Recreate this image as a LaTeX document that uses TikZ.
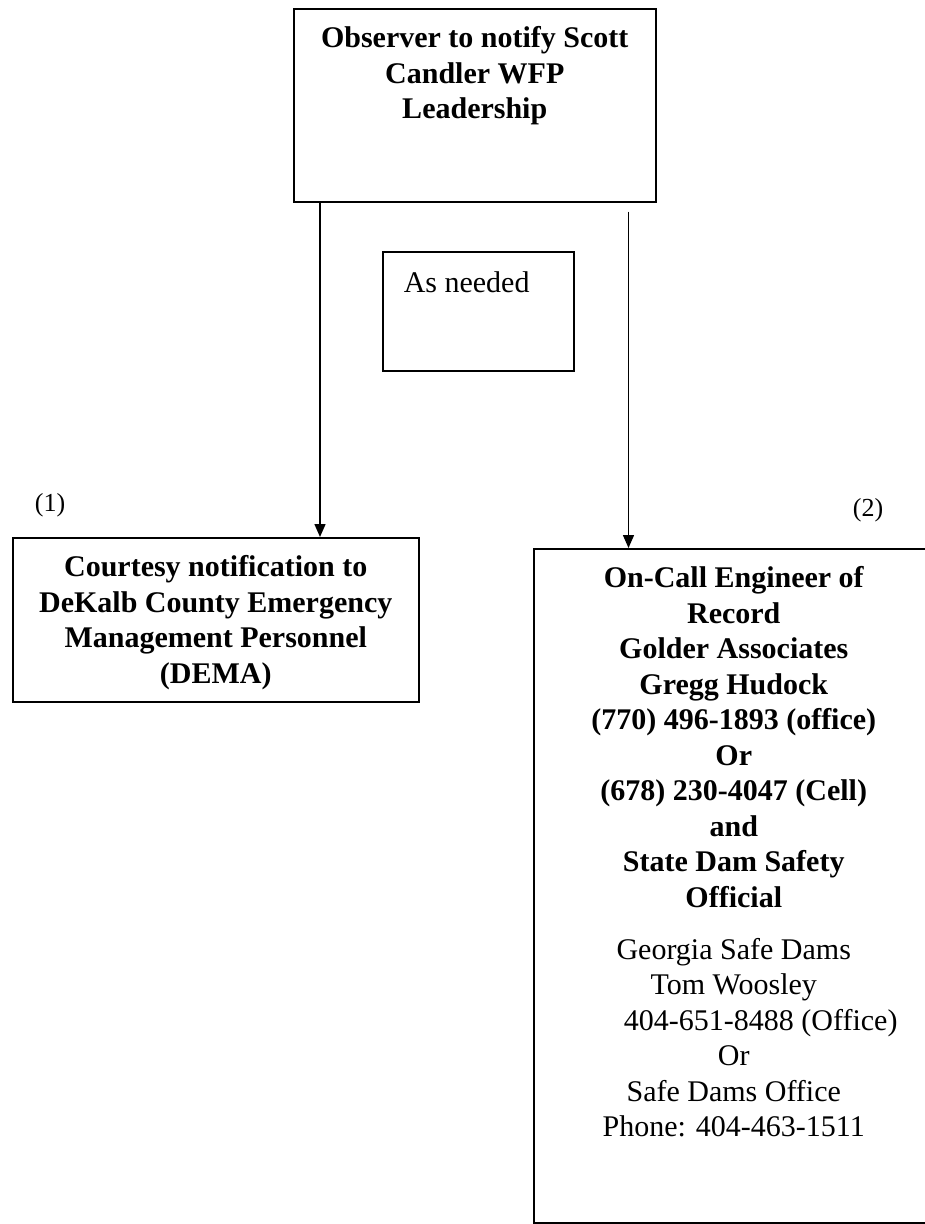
\documentclass[tikz,border=0pt]{standalone}
\usepackage{fontspec}
\setmainfont{Liberation Serif}
\usepackage{tikz}
\usetikzlibrary{arrows.meta}
\tikzset{
    flow-box/.style = {draw=black, fill=white, line width=1.5pt, rectangle, inner sep=0pt, font=\fontsize{30}{35.5}\selectfont},
    flow-note/.style = {inner sep=0pt, font=\fontsize{26}{30}\selectfont},
    flow-arrow/.style = {draw=black, line width=1.5pt, -{Triangle[length=13pt,width=11pt]}},
}

\begin{document}
\begin{tikzpicture}[x=1pt,y=-1pt]
\useasboundingbox (0,0) rectangle (925,1224);
\node [flow-box, anchor=north west] (observer) at (293,8) {\begin{minipage}[t][193pt][t]{362pt}
    \vspace*{18pt}\centering\bfseries
    Observer to notify Scott\\
    Candler WFP\\
    Leadership
\end{minipage}};
\node [flow-box, anchor=north west] (needed) at (382,251) {\begin{minipage}[t][119pt][t]{191pt}
    \vspace*{20pt}\hspace*{21pt}As needed
\end{minipage}};
\node [flow-box, anchor=north west] (dema) at (12,537) {\begin{minipage}[t][164pt][t]{406pt}
    \vspace*{18pt}\centering\bfseries
    Courtesy notification to\\
    DeKalb County Emergency\\
    Management Personnel\\
    (DEMA)
\end{minipage}};
\node [flow-box, anchor=north west] (engineer) at (533,548) {\begin{minipage}[t][674pt][t]{400pt}
    \vspace*{18pt}\centering
    {\bfseries On-Call Engineer of\\
    Record\\
    Golder Associates\\
    Gregg Hudock\\
    (770) 496-1893 (office)\\
    Or\\
    (678) 230-4047 (Cell)\\
    and\\
    State Dam Safety\\
    Official\\[16.5pt]}
    Georgia Safe Dams\\
    Tom Woosley\\
    \hspace*{54pt}404-651-8488 (Office)\\
    Or\\
    Safe Dams Office\\
    Phone: 404-463-1511
\end{minipage}};
\node[flow-note] (one) at (50,505) {(1)};
\node[flow-note] (two) at (868,510) {(2)};
\draw[flow-arrow] ([xshift=27pt]observer.south west) -- ([xshift=27pt]observer.south west |- dema.north);
\draw[flow-arrow] ([xshift=-28pt,yshift=-9pt]observer.south east) -- ([xshift=-28pt]observer.south east |- engineer.north);
\end{tikzpicture}
\end{document}
